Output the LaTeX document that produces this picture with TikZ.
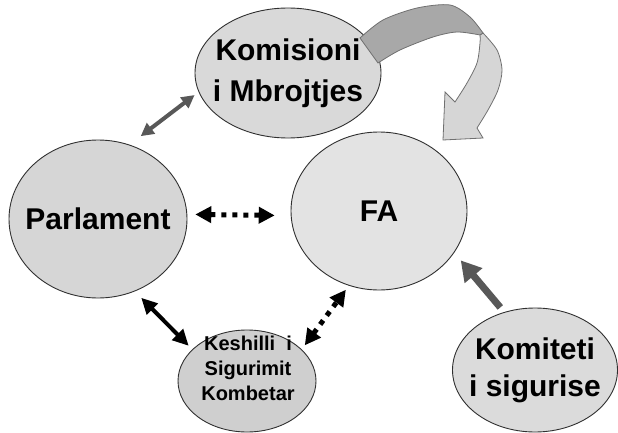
\documentclass[tikz,border=0pt]{standalone}
\usepackage{fontspec}
\setmainfont{Liberation Sans}
\usetikzlibrary{shapes.geometric,arrows.meta}

\definecolor{rim}{HTML}{303030}
\definecolor{linkgrey}{HTML}{585858}
\definecolor{banddark}{HTML}{A8A8A8}
\definecolor{bandlight}{HTML}{D6D6D6}
\definecolor{bandrim}{HTML}{707070}

\begin{document}
\begin{tikzpicture}[x=1pt,y=-1pt,
  oval/.style={ellipse, draw=rim, line width=0.9pt, inner sep=0pt},
  ovaltext/.style={font=\bfseries\fontsize{30}{37}\selectfont, align=center, inner sep=0pt},
  greylink/.style={draw=linkgrey, line width=4pt, {Triangle[length=13pt,width=13pt]}-{Triangle[length=13pt,width=13pt]}},
  dotlink/.style={draw=black, line width=5pt, dash pattern=on 5pt off 6pt, {Triangle[length=16pt,width=16pt]}-{Triangle[length=16pt,width=16pt]}},
  boldlink/.style={draw=black, line width=4pt, {Triangle[length=16pt,width=15pt]}-{Triangle[length=16pt,width=15pt]}},
  heavylink/.style={draw=linkgrey, line width=7pt, -{Triangle[length=20pt,width=22pt]}}]

  \useasboundingbox (0,0) rectangle (618,433);

  % the five bodies
  \node[oval, fill=black!15, minimum width=186pt, minimum height=130pt] (kom) at (288,73) {};
  \node[oval, fill=black!16, minimum width=178pt, minimum height=158pt] (parl) at (98,219) {};
  \node[oval, fill=black!11, minimum width=176pt, minimum height=158pt] (fa) at (379,211) {};
  \node[oval, fill=black!19, minimum width=138pt, minimum height=102pt] (ksk) at (247,381) {};
  \node[oval, fill=black!14, minimum width=165pt, minimum height=124pt] (kmt) at (535,370) {};

  \node[ovaltext, font=\bfseries\fontsize{30}{41}\selectfont] (kom-t) at (kom) {Komisioni\\i Mbrojtjes};
  \node[ovaltext] (parl-t) at (parl) {Parlament};
  \node[ovaltext] (fa-t) at (fa) {FA};
  \node[ovaltext, font=\bfseries\fontsize{20}{25}\selectfont] (ksk-t) at (248,368) {Keshilli\ \ i\\Sigurimit\\Kombetar};
  \node[ovaltext] (kmt-t) at (kmt) {Komiteti\\i sigurise};

  % curved ribbon arrow
  \filldraw[fill=bandlight, draw=bandrim, line width=0.8pt] (480,35)
    -- plot[smooth] coordinates {(483,33) (497,50) (502,70) (498,90) (488,110) (477,128)}
    -- (483,138) -- (443,140) -- (445,92)
    -- plot[smooth] coordinates {(455,102) (467,83) (477,63) (480,43) (480,35)} -- cycle;
  \filldraw[fill=banddark, draw=bandrim, line width=0.8pt] (360,38)
    -- plot[smooth] coordinates {(378,63) (400,50) (433,37) (457,32) (480,35)}
    -- plot[smooth] coordinates {(483,33) (470,17) (450,5) (417,8) (383,20) (360,38)} -- cycle;

  % links
  \draw[greylink, shorten <=5pt, shorten >=14pt] (kom.192) -- (parl.67);
  \draw[dotlink, shorten <=8pt, shorten >=16pt] (parl.3) -- (fa.183);
  \draw[boldlink, shorten <=9pt, shorten >=5pt] (parl.-63) -- (ksk.150);
  \draw[dotlink, shorten <=5pt, shorten >=5pt] (ksk.30) -- (fa.248);
  \draw[heavylink, shorten <=6pt, shorten >=10pt] (kmt.118) -- (fa.-29);
\end{tikzpicture}
\end{document}
